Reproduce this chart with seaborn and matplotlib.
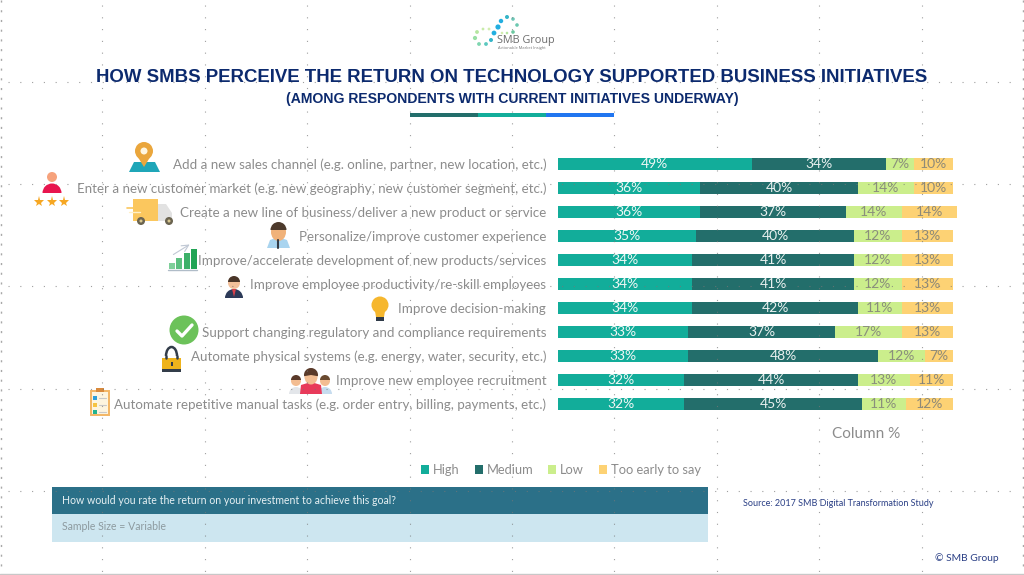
import numpy as np
import pandas as pd
import matplotlib
matplotlib.use("Agg")
import matplotlib.pyplot as plt
from matplotlib.patches import Circle, Rectangle, Polygon, Wedge, Ellipse, Arc
import seaborn as sns

goals = [
    "Add a new sales channel (e.g. online, partner, new location, etc.)",
    "Enter a new customer market (e.g. new geography, new customer segment, etc.)",
    "Create a new line of business/deliver a new product or service",
    "Personalize/improve customer experience",
    "Improve/accelerate development of new products/services",
    "Improve employee productivity/re-skill employees",
    "Improve decision-making",
    "Support changing regulatory and compliance requirements",
    "Automate physical systems (e.g. energy, water, security, etc.)",
    "Improve new employee recruitment",
    "Automate repetitive manual tasks (e.g. order entry, billing, payments, etc.)",
]
high = [49, 36, 36, 35, 34, 34, 34, 33, 33, 32, 32]
medium = [34, 40, 37, 40, 41, 41, 42, 37, 48, 44, 45]
low = [7, 14, 14, 12, 12, 12, 11, 17, 12, 13, 11]
too_early = [10, 10, 14, 13, 13, 13, 13, 13, 7, 11, 12]

series_names = ["High", "Medium", "Low", "Too early to say"]
series_colors = ["#12ad9a", "#236e6b", "#cbee8c", "#fdd274"]
label_colors = ["#eef7f5", "#e8f0ef", "#8a8f7c", "#8f8a78"]

GRAY = "#8c8c8c"
NAVY = "#0c2a6e"

sns.set_theme(style="white")
plt.rcParams["font.family"] = ["Lato", "DejaVu Sans"]

df = pd.DataFrame({"goal": goals, "High": high, "Medium": medium,
                   "Low": low, "Too early to say": too_early})

fig = plt.figure(figsize=(10.24, 5.75), dpi=100)

# chart area lines up with the pixel layout of the slide
ax = fig.add_axes([558 / 1024, 1 - 416 / 575, 399 / 1024, 264 / 575])

left = np.zeros(len(goals))
for name, color, txt_color in zip(series_names, series_colors, label_colors):
    sns.barplot(data=df, x=name, y="goal", color=color, saturation=1, width=0.54,
                errorbar=None, left=left, label=name, legend=False, linewidth=0, ax=ax)
    ax.bar_label(ax.containers[-1], fmt="%d%%", label_type="center",
                 color=txt_color, fontsize=10)
    left = left + df[name].to_numpy()

ax.set_xlim(0, 101)
ax.set_ylim(10.5, -0.5)
ax.set_xlabel("")
ax.set_ylabel("")
ax.set_xticks([])
ax.tick_params(axis="y", length=0, pad=8.5, labelsize=9.65, labelcolor=GRAY)
sns.despine(ax=ax, left=True, bottom=True)

handles = [c.patches[0] for c in ax.containers]
fig.legend(handles, series_names, ncol=4, loc="center", bbox_to_anchor=(561 / 1024, 1 - 470 / 575),
           frameon=False, fontsize=9.3, labelcolor=GRAY, handlelength=0.62, handleheight=0.62,
           handletextpad=0.3, columnspacing=1.15)

# overlay in pixel coordinates for slide furniture
ov = fig.add_axes([0, 0, 1, 1], zorder=5)
ov.set_xlim(0, 1024)
ov.set_ylim(575, 0)
ov.axis("off")
ov.patch.set_alpha(0)

# slide guide dots
for k in range(1, 10):
    ov.plot([102.4 * k] * 2, [5, 572], color="#777777", lw=0.8, ls=(0, (1, 9.6)), alpha=0.7)
for y in [81.6, 184, 286.4, 389, 491]:
    ov.plot([8, 1018], [y, y], color="#777777", lw=0.8, ls=(0, (1, 9.6)), alpha=0.7)
ov.plot([1, 1], [0, 574], color="#a8a8a8", lw=1, ls=(0, (1.5, 5.5)))
ov.plot([1023, 1023], [0, 574], color="#a8a8a8", lw=1, ls=(0, (1.5, 5.5)))
ov.plot([0, 1024], [573.5, 573.5], color="#c8c8c8", lw=1)

# titles
ov.text(512, 77.5, "HOW SMBS PERCEIVE THE RETURN ON TECHNOLOGY SUPPORTED BUSINESS INITIATIVES",
        ha="center", va="center", family="Liberation Sans", weight="bold", fontsize=13.4, color=NAVY)
ov.text(512, 99.5, "(AMONG RESPONDENTS WITH CURRENT INITIATIVES UNDERWAY)",
        ha="center", va="center", family="Liberation Sans", weight="bold", fontsize=10.05, color=NAVY)
for x0, c in zip([410, 478, 546], ["#236e6b", "#12ad9a", "#2176f0"]):
    ov.add_patch(Rectangle((x0, 113), 68, 4, color=c, lw=0))

# logo
logo_x = [507, 501, 498, 494, 491, 486, 479, 475, 477, 483, 489, 513, 517, 513, 507, 502]
logo_y = [17, 21, 27, 33, 40, 44, 44, 38, 32, 29, 29, 19, 25, 32, 33, 33]
logo_c = ["#35b5c8", "#22aee0", "#22aee0", "#22aee0", "#35b5c8", "#5cc8c0", "#7fd6b0", "#9adfa5",
          "#b5e6a0", "#c8ebaa", "#d2edb0", "#6cc8b8", "#6cc8b0", "#6cc8a0", "#b5e6a0", "#d2edb0"]
logo_s = [2.0, 2.2, 2.6, 2.4, 2.0, 1.9, 1.9, 2.1, 1.9, 1.4, 1.4, 1.8, 1.8, 1.8, 1.3, 1.3]
for x, y, c, r in zip(logo_x, logo_y, logo_c, logo_s):
    ov.add_patch(Circle((x, y), r, color=c, lw=0))
ov.text(497, 41, "SMB Group", ha="left", va="center", family="Open Sans", fontsize=7.8, color="#6d6d6d")
ov.text(498, 48, "Actionable Market Insight", ha="left", va="center", family="Open Sans",
        fontsize=2.9, color="#777777")


def draw_pin():
    ov.add_patch(Polygon([(134, 162), (155, 162), (160, 172), (129, 172)], color="#1fa6b8", lw=0))
    ov.add_patch(Polygon([(136, 154), (152, 154), (144, 167)], color="#eaa63c", lw=0))
    ov.add_patch(Circle((144, 151), 9, color="#eaa63c", lw=0))
    ov.add_patch(Circle((144, 151), 3.5, color="#fff6e0", lw=0))


def draw_market_person():
    ov.add_patch(Circle((52, 177), 5, color="#f6a27c", lw=0))
    ov.add_patch(Wedge((52, 193), 9.5, 180, 360, color="#e8154e", lw=0))
    ov.plot([39, 52, 64], [202, 202, 202], ls="none", marker="*", ms=8, color="#f6a723", mew=0)


def draw_truck():
    ov.add_patch(Polygon([(158, 204), (166, 204), (172, 213), (172, 221), (158, 221)], color="#e2e2e2", lw=0))
    ov.add_patch(Rectangle((133, 199), 25, 22, color="#fbc75e", lw=0))
    ov.plot([127, 140], [208, 208], color="#fbc75e", lw=1.2)
    ov.plot([129, 140], [212, 212], color="#fff0c8", lw=1)
    for x in [141, 169]:
        ov.add_patch(Circle((x, 221), 4, color="#6b6450", lw=0))
        ov.add_patch(Circle((x, 221), 1.5, color="#d9c890", lw=0))


def draw_headset():
    ov.add_patch(Polygon([(267, 248), (270, 240), (278, 237), (287, 240), (290, 248)], color="#a9d4ef", lw=0))
    ov.add_patch(Ellipse((278.5, 232), 15, 18, color="#f0b27a", lw=0))
    ov.add_patch(Wedge((278.5, 230), 8, 180, 360, color="#4d3a2c", lw=0))
    ov.plot([278, 278], [240, 248], color="#333a44", lw=1.5)


def draw_growth():
    ov.plot([168, 197], [270, 270], color="#b0bcc8", lw=1)
    for x0, h, c in zip([169, 176, 184, 191], [6, 11, 16, 20], ["#7fcf9a", "#5cc080", "#3cb068", "#22a455"]):
        ov.add_patch(Rectangle((x0, 269 - h), 5.5, h, color=c, lw=0))
    ov.annotate("", xy=(192, 243), xytext=(171, 256),
                arrowprops=dict(arrowstyle="->", color="#c0c8d4", lw=0.8))


def draw_businessman():
    ov.add_patch(Wedge((234, 298), 9, 180, 360, color="#2c3a58", lw=0))
    ov.add_patch(Polygon([(232, 289), (236, 289), (234, 297)], color="#d8404a", lw=0))
    ov.add_patch(Circle((234, 283), 6, color="#f3c09a", lw=0))
    ov.add_patch(Wedge((234, 282), 6, 180, 360, color="#4a3528", lw=0))


def draw_bulb():
    ov.add_patch(Rectangle((376, 316), 8, 5, color="#2f3a48", lw=0))
    ov.add_patch(Polygon([(375, 311), (385, 311), (384, 317), (376, 317)], color="#f6b72e", lw=0))
    ov.add_patch(Circle((380, 305), 8.5, color="#f6b72e", lw=0))


def draw_check():
    ov.add_patch(Circle((184, 330), 14.5, color="#6cc25a", lw=0))
    ov.plot([177, 182, 192], [331, 336, 325], color="white", lw=2.4, solid_capstyle="round")


def draw_lock():
    ov.add_patch(Arc((171.5, 356), 11, 18, theta1=180, theta2=360, color="#333d4a", lw=1.8))
    ov.plot([166, 166], [356, 358], color="#333d4a", lw=1.8)
    ov.plot([177, 177], [356, 358], color="#333d4a", lw=1.8)
    ov.add_patch(Rectangle((162, 358), 19, 13, color="#eeb31c", lw=0))
    ov.add_patch(Rectangle((162, 369), 19, 2.5, color="#333d4a", lw=0))
    ov.add_patch(Rectangle((170.5, 362), 2, 4, color="#333d4a", lw=0))


def draw_people():
    for cx, body, hair in [(296, "#e3e6ea", "#5a3a2a"), (325, "#c6dcef", "#6a4a30")]:
        ov.add_patch(Wedge((cx, 394), 7, 180, 360, color=body, lw=0))
        ov.add_patch(Circle((cx, 381), 5, color="#f3bd92", lw=0))
        ov.add_patch(Wedge((cx, 380), 5, 180, 360, color=hair, lw=0))
    ov.add_patch(Polygon([(300, 394), (301, 385), (311, 382), (321, 385), (322, 394)], color="#e83a5a", lw=0))
    ov.add_patch(Ellipse((311, 377), 13, 15, color="#f3bd92", lw=0))
    ov.add_patch(Wedge((311, 375), 7, 170, 370, color="#5a3a2a", lw=0))


def draw_clipboard():
    ov.add_patch(Rectangle((91, 391), 18, 24, facecolor="#fdf4df", edgecolor="#f3b664", lw=1.4))
    ov.add_patch(Rectangle((96, 388), 8, 4, color="#d98a3c", lw=0))
    for y, c in zip([396, 403, 410], ["#2f9fd8", "#f6c342", "#22b38f"]):
        ov.add_patch(Rectangle((93, y), 4, 4, color=c, lw=0))
        ov.plot([99, 106], [y + 2, y + 2], color="#c8c8c8", lw=0.8)


for draw in [draw_pin, draw_market_person, draw_truck, draw_headset, draw_growth, draw_businessman,
             draw_bulb, draw_check, draw_lock, draw_people, draw_clipboard]:
    draw()

# footer
ov.text(832, 434, "Column %", ha="left", va="center", fontsize=11, color=GRAY)
ov.add_patch(Rectangle((52, 487), 656, 27, color="#2b7088", lw=0))
ov.add_patch(Rectangle((52, 514), 656, 27.5, color="#cde6f0", lw=0))
ov.text(62, 500, "How would you rate the return on your investment to achieve this goal?",
        ha="left", va="center", fontsize=7.6, color="#e6f0f3")
ov.text(62, 526, "Sample Size = Variable", ha="left", va="center", fontsize=7.6, color="#8d9a9f")
ov.text(743, 503, "Source: 2017 SMB Digital Transformation Study", ha="left", va="center",
        fontsize=6.53, color="#2a3f85")
ov.text(935, 558, "\u00a9 SMB Group", ha="left", va="center", fontsize=7.4, color="#2a3f85")

fig.savefig("out.png", dpi=100)
plt.close(fig)
